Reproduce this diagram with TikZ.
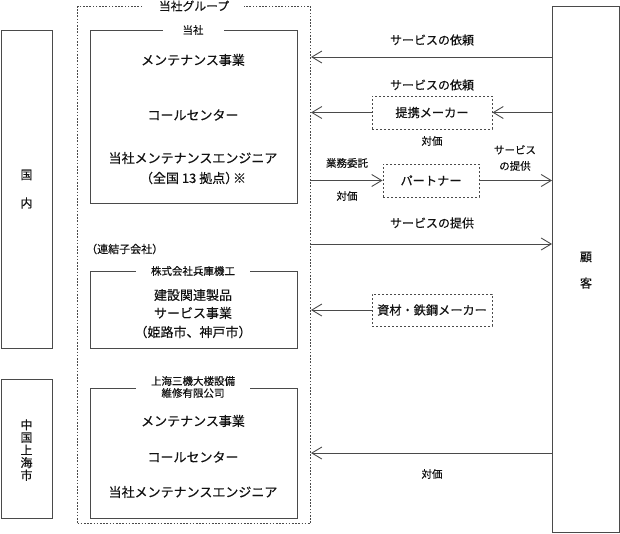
\documentclass[tikz,border=0pt]{standalone}
\usepackage{fontspec}
\setmainfont{Noto Sans CJK JP}[FakeBold=0.35]
\usetikzlibrary{arrows.meta}
\definecolor{ln}{HTML}{4A4A4A}
\definecolor{tx}{HTML}{111111}
\begin{document}
\begin{tikzpicture}[x=1pt,y=-1pt,
  box/.style={draw=ln, line width=0.9pt, inner sep=0, anchor=north west},
  grpbox/.style={draw=ln, line width=1pt, dash pattern=on 1.6pt off 1.6pt, inner sep=0, anchor=north west},
  dbox/.style={draw=ln, line width=0.9pt, dash pattern=on 2pt off 2pt, inner sep=0, text=tx, font=\fontsize{12.2}{14}\selectfont},
  big/.style={text=tx, inner sep=0, font=\fontsize{13}{15}\selectfont},
  mid/.style={text=tx, inner sep=0, font=\fontsize{12}{14}\selectfont},
  small/.style={text=tx, inner sep=0, font=\fontsize{10.5}{12}\selectfont},
  title/.style={fill=white, inner ysep=1pt, text=tx, font=\fontsize{10.5}{12}\selectfont},
  arr/.style={draw=ln, line width=0.9pt, -{Straight Barb[length=10pt,width=12pt,line width=0.9pt]}}
]
\useasboundingbox (0,0) rectangle (620,533);

% left region boxes
\node[box, minimum width=51, minimum height=318] (dom) at (1,30) {};
\node[mid] (domA) at (26.5,175) {国};
\node[mid] (domB) at (26.5,203) {内};
\node[box, minimum width=51, minimum height=139] (sh) at (1,379) {};
\node[text=tx, inner sep=0, align=center, font=\fontsize{12}{12.6}\selectfont] (shT) at (26.5,450) {中\\国\\上\\海\\市};

% group box
\node[grpbox, minimum width=233, minimum height=517] (grp) at (77,6) {};
\node[title, inner xsep=15pt, font=\fontsize{11.8}{13}\selectfont] (grpT) at (194,6) {当社グループ};

% company box
\node[box, minimum width=207, minimum height=173] (co) at (90,30) {};
\node[title, inner xsep=20pt] (coT) at (193,30) {当社};
\node[big] (co1) at (193,60) {メンテナンス事業};
\node[big] (co2) at (193,115) {コールセンター};
\node[big] (co3) at (193,158) {当社メンテナンスエンジニア};
\node[big] (co4) at (193,178) {（全国 13 拠点）\kern-0.4em※};

\node[small, anchor=west, font=\fontsize{11}{13}\selectfont] (sub) at (86,249) {（連結子会社）};

% Hyogo box
\node[box, minimum width=207, minimum height=77] (hy) at (90,271) {};
\node[title, inner xsep=15pt] (hyT) at (193,271) {株式会社兵庫機工};
\node[big] (hy1) at (193,295) {建設関連製品};
\node[big] (hy2) at (193,313) {サービス事業};
\node[big] (hy3) at (193,332) {（姫路市、神戸市）};

% Shanghai box
\node[box, minimum width=207, minimum height=130] (sa) at (90,388) {};
\node[title, inner xsep=15pt, align=center, font=\fontsize{10.5}{12}\selectfont] (saT) at (193,387) {上海三機大楼設備\\維修有限公司};
\node[big] (sa1) at (193,421) {メンテナンス事業};
\node[big] (sa2) at (193,457) {コールセンター};
\node[big] (sa3) at (193,492) {当社メンテナンスエンジニア};

% client box
\node[box, minimum width=67, minimum height=526] (cl) at (552,6) {};
\node[mid] (clA) at (586,257) {顧};
\node[mid] (clB) at (586,283) {客};

% middle dashed boxes
\node[dbox, minimum width=120, minimum height=33] (tk) at (432,112.5) {提携メーカー};
\node[dbox, minimum width=96, minimum height=33] (pt) at (431,180.5) {パートナー};
\node[dbox, minimum width=120, minimum height=32] (sz) at (432,310) {資材・鉄鋼メーカー};

% level coordinates
\coordinate (r1) at (0,57);
\coordinate (r4) at (0,244);
\coordinate (r6) at (0,453);

% arrows
\draw[arr] (cl.west |- r1) -- (grp.east |- r1);
\node[mid] (l1) at (432,40) {サービスの依頼};

\draw[arr] (cl.west |- tk) -- (tk.east);
\draw[arr] (tk.west) -- (grp.east |- tk);
\node[mid] (l2) at (432,85) {サービスの依頼};
\node[small] (l3) at (432,141) {対価};

\draw[arr] (grp.east |- pt) -- (pt.west);
\draw[arr] (pt.east) -- (cl.west |- pt);
\node[small] (l4) at (347,163) {業務委託};
\node[small] (l5) at (347,196) {対価};
\node[small, align=center, font=\fontsize{10.5}{16}\selectfont] (l6) at (515,158) {サービス\\の提供};

\draw[arr] (grp.east |- r4) -- (cl.west |- r4);
\node[mid] (l7) at (432,223) {サービスの提供};

\draw[arr] (sz.west) -- (grp.east |- sz);

\draw[arr] (cl.west |- r6) -- (grp.east |- r6);
\node[small] (l8) at (432,474) {対価};
\end{tikzpicture}
\end{document}
